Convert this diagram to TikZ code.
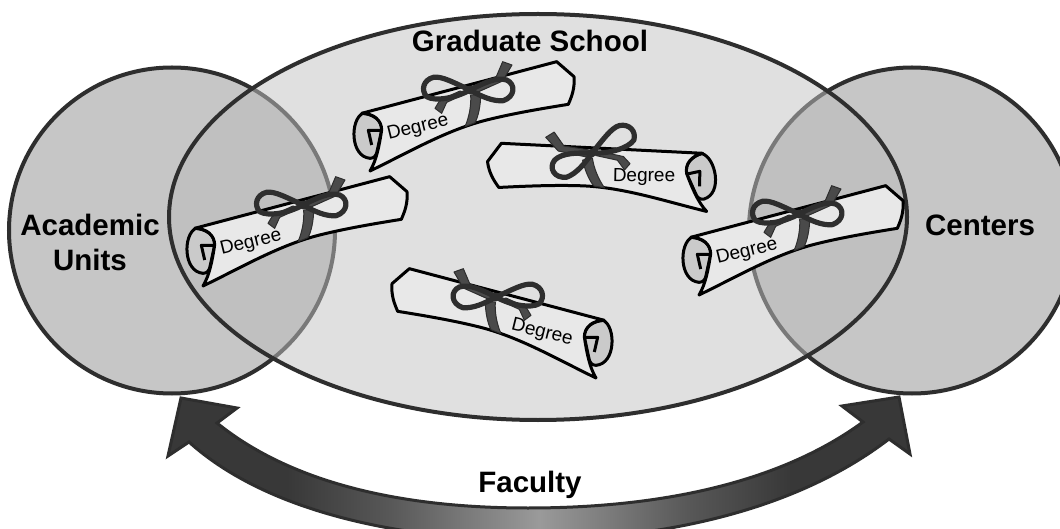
\documentclass[tikz,border=0pt]{standalone}
\usepackage{fontspec}
\setmainfont{Liberation Sans}
\definecolor{edge}{HTML}{2E2E2E}
\definecolor{circfill}{HTML}{C6C6C6}
\definecolor{ellfill}{HTML}{E0E0E0}
\definecolor{overfill}{HTML}{C0C0C0}
\definecolor{rollin}{HTML}{CACACA}
\definecolor{rib}{HTML}{4A4A4A}
\definecolor{fadeA}{HTML}{383838}
\definecolor{fadeB}{HTML}{585858}
\definecolor{fadeC}{HTML}{9A9A9A}
\pgfdeclarehorizontalshading{facshade}{100bp}{
 color(0bp)=(fadeA); color(33bp)=(fadeA); color(40bp)=(fadeB); color(50bp)=(fadeC);
 color(60bp)=(fadeB); color(67bp)=(fadeA); color(100bp)=(fadeA)}
\tikzset{
 lab/.style={font=\fontsize{29.5}{31}\selectfont\bfseries,align=center,text=black,inner sep=0pt},
 deg/.style={font=\fontsize{19}{20}\selectfont,text=black,inner sep=0pt},
 sheet/.style={fill=black!9,draw=black,line width=3pt,line join=round},
 bow/.style={draw=edge,line width=5.2pt,line cap=round,line join=round},
 band/.style={fill=rib,draw=edge,line width=1pt,line join=round}
}
\newcommand{\bowturn}{0}
\newcommand{\scrollart}{%
 % roll end
 \path[fill=rollin,draw=black,line width=3pt]
   (108,205) .. controls (70,225) and (70,335) .. (130,340) .. controls (142,340) and (150,332) .. (152,315)
   -- (165,255) .. controls (165,225) and (140,208) .. (108,205) -- cycle;
 % sheet
 \path[sheet] (130,378) .. controls (250,320) and (360,255) .. (480,225)
   .. controls (560,205) and (650,190) .. (725,178)
   .. controls (735,155) and (745,130) .. (742,95)
   -- (690,50) -- (105,205)
   .. controls (140,205) and (165,225) .. (165,255)
   .. controls (158,300) and (150,345) .. (130,378) -- cycle;
 \draw[black,line width=3pt,line join=round] (165,256) -- (125,256) -- (135,300);
 % ribbon band and tails
 \path[band] (432,150) -- (462,150) .. controls (462,180) and (455,215) .. (445,233) -- (415,245) .. controls (428,215) and (434,180) .. (432,150) -- cycle;
 \path[band] (435,125) -- (508,97) -- (528,50) -- (556,60) -- (528,108) -- (445,145) -- cycle;
 \path[band] (420,145) -- (360,172) -- (345,205) -- (325,190) -- (340,165) -- (400,138) -- cycle;
 % bows
 \begin{scope}[rotate around={\bowturn:(430,135)}]
 \path[bow] (430,135) .. controls (385,115) and (345,92) .. (320,97)
   .. controls (290,105) and (282,135) .. (300,155)
   .. controls (325,170) and (385,160) .. (430,135);
 \path[bow] (430,135) .. controls (470,115) and (510,95) .. (540,105)
   .. controls (568,118) and (565,155) .. (530,167)
   .. controls (500,170) and (465,155) .. (430,135);
 \end{scope}
 \path[fill=edge] (430,135) circle (13);
}
\newcommand{\scrollat}[3]{% x,y,rotation : left-rolled
 \begin{scope}[shift={(#1,#2)},rotate=#3,scale=0.3333,shift={(-430,-135)}]\scrollart\end{scope}}
\newcommand{\scrollmir}[3]{% x,y,rotation : right-rolled
 \begin{scope}[shift={(#1,#2)},rotate=#3,xscale=-1,scale=0.3333,shift={(-430,-135)}]\scrollart\end{scope}}
\begin{document}
\begin{tikzpicture}[x=1pt,y=-1pt]
\useasboundingbox (0,0) rectangle (1060,529);
\clip (0,0) rectangle (1060,529);
\fill[white] (0,0) rectangle (1060,529);
% circles
\path[fill=circfill,draw=edge,line width=4pt] (172,230.5) circle[radius=163];
\path[fill=circfill,draw=edge,line width=4pt] (912,230.5) circle[radius=163];
% ellipse fill
\fill[ellfill] (538,217) ellipse[x radius=369,y radius=203];
% overlaps
\begin{scope}
 \clip (538,217) ellipse[x radius=369,y radius=203];
 \path[fill=overfill,draw=gray!95!black,line width=4pt] (172,230.5) circle[radius=163];
 \path[fill=overfill,draw=gray!95!black,line width=4pt] (912,230.5) circle[radius=163];
\end{scope}
\draw[edge,line width=4pt] (538,217) ellipse[x radius=369,y radius=203];
% scrolls
\scrollat{303}{205}{0}
\scrollat{470}{90}{0}
\scrollat{799}{214}{0}
\renewcommand{\bowturn}{-14}
\scrollmir{592}{153}{12}
\renewcommand{\bowturn}{0}
\scrollmir{496}{297}{0}
\node[deg,rotate=14] (d1) at (251,243) {Degree};
\node[deg,rotate=14] (d2) at (418,128) {Degree};
\node[deg,rotate=14] (d4) at (747,252) {Degree};
\node[deg,rotate=-1] (d3) at (644,177) {Degree};
\node[deg,rotate=-14] (d5) at (542,333) {Degree};
% arrow
\path[shading=facshade,draw=edge,line width=3pt,line join=miter]
 (181,398) -- (237,408) -- (217,423)
 .. controls (300,490) and (420,508) .. (528,508)
 .. controls (640,508) and (770,490) .. (863,422)
 -- (842,406) -- (899,397) -- (910,454) -- (889,439)
 .. controls (790,515) and (650,540) .. (528,540)
 .. controls (410,540) and (270,515) .. (189,442)
 -- (168,456) -- cycle;
% labels
\node[lab] (gs) at (530,41) {Graduate School};
\node[lab] (au) at (90,242) {Academic\\[4pt]Units};
\node[lab] (ce) at (980,225) {Centers};
\node[lab] (fa) at (530,485) {Faculty};
\end{tikzpicture}
\end{document}
